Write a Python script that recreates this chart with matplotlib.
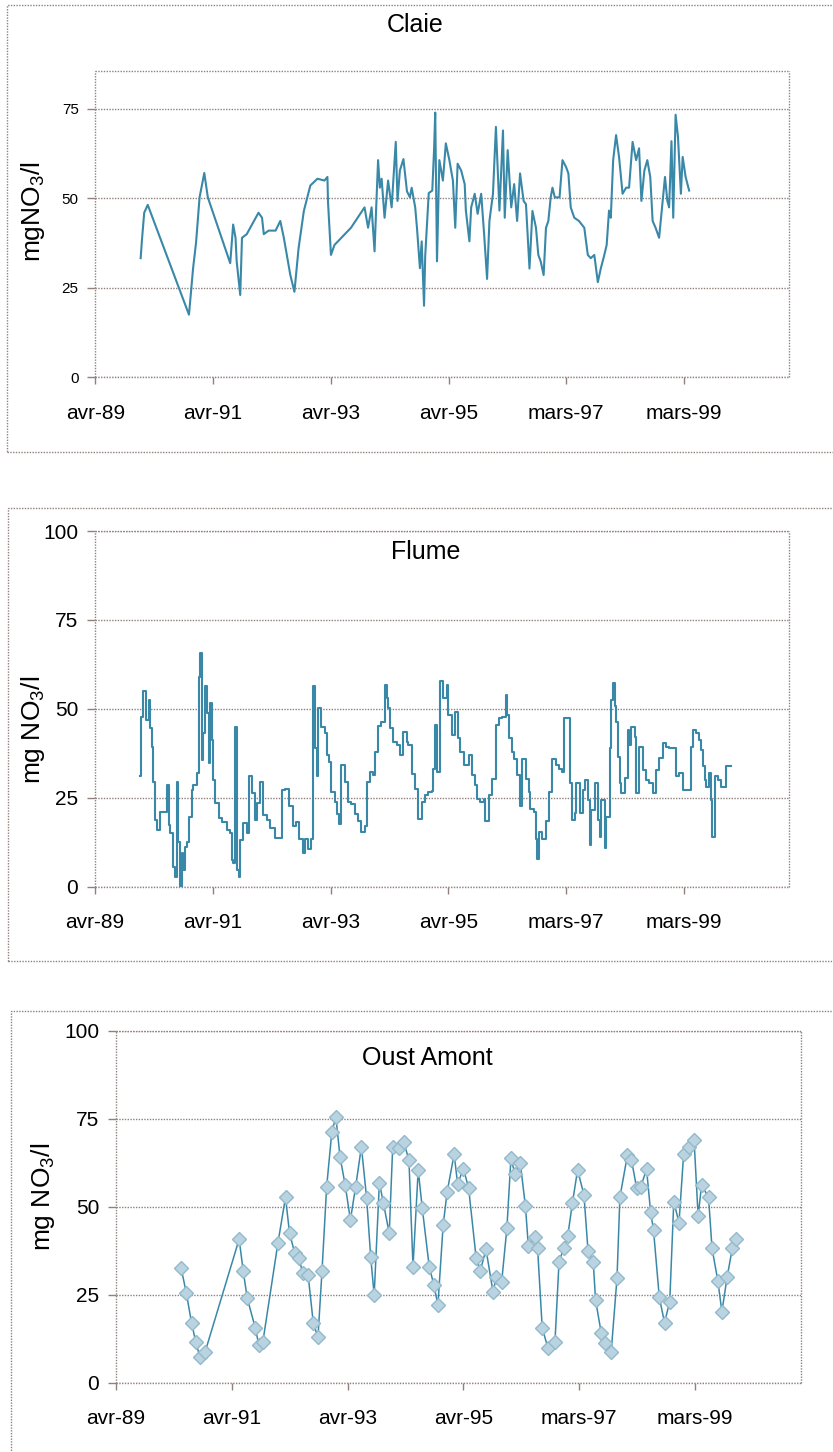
import matplotlib
matplotlib.use("Agg")
import matplotlib.pyplot as plt
from matplotlib.patches import Rectangle

plt.rcParams['font.family'] = ['Liberation Sans', 'DejaVu Sans']
plt.rcParams['mathtext.fontset'] = 'custom'
plt.rcParams['mathtext.rm'] = 'Liberation Sans'

# x axis: decimal years, Excel date ticks every 730 days from 2 Apr 1989
tick_pos = [1989.25, 1991.25, 1993.25, 1995.25, 1997.24, 1999.24]
tick_labels = ['avr-89', 'avr-91', 'avr-93', 'avr-95', 'mars-97', 'mars-99']

# Claie (dense sampling)
claie_t = [1990.02, 1990.04, 1990.08, 1990.14, 1990.84, 1990.91, 1990.96, 1991.02,
           1991.10, 1991.16, 1991.54, 1991.59, 1991.63, 1991.65, 1991.71, 1991.74,
           1991.82, 1991.91, 1992.02, 1992.08, 1992.11, 1992.19, 1992.31, 1992.39,
           1992.45, 1992.56, 1992.63, 1992.70, 1992.79, 1992.90, 1993.02, 1993.14,
           1993.19, 1993.20, 1993.25, 1993.31, 1993.59, 1993.82, 1993.88, 1993.94,
           1993.99, 1994.02, 1994.05, 1994.08, 1994.11, 1994.16, 1994.22, 1994.28,
           1994.35, 1994.38, 1994.42, 1994.48, 1994.54, 1994.59, 1994.62, 1994.68,
           1994.71, 1994.76, 1994.79, 1994.83, 1994.85, 1994.91, 1994.97, 1995.00,
           1995.02, 1995.05, 1995.09, 1995.15, 1995.20, 1995.26, 1995.32, 1995.36,
           1995.40, 1995.46, 1995.52, 1995.54, 1995.60, 1995.63, 1995.69, 1995.74,
           1995.80, 1995.85, 1995.90, 1995.94, 1996.00, 1996.05, 1996.11, 1996.17,
           1996.20, 1996.25, 1996.31, 1996.36, 1996.41, 1996.46, 1996.52, 1996.56,
           1996.62, 1996.67, 1996.73, 1996.77, 1996.81, 1996.86, 1996.90, 1996.94,
           1996.98, 1997.01, 1997.05, 1997.13, 1997.18, 1997.24, 1997.28, 1997.32,
           1997.38, 1997.46, 1997.55, 1997.61, 1997.66, 1997.72, 1997.78, 1997.83,
           1997.89, 1997.93, 1997.97, 1998.00, 1998.04, 1998.09, 1998.14, 1998.20,
           1998.26, 1998.31, 1998.37, 1998.43, 1998.48, 1998.52, 1998.57, 1998.62,
           1998.67, 1998.71, 1998.76, 1998.82, 1998.88, 1998.92, 1998.96, 1998.99,
           1999.03, 1999.06, 1999.10, 1999.14, 1999.19, 1999.22, 1999.27, 1999.33]
claie_v = [33.3, 38.0, 46.0, 48.2, 17.5, 30.5, 37.6, 50.3,
           57.1, 50.3, 31.9, 42.7, 39.0, 32.4, 23.0, 39.0,
           40.0, 42.7, 46.0, 44.6, 40.0, 41.0, 41.0, 43.7,
           39.0, 28.6, 23.9, 36.0, 46.5, 53.6, 55.5, 55.0,
           56.0, 49.0, 34.2, 37.0, 41.8, 47.5, 41.8, 47.5,
           35.2, 48.4, 60.7, 53.0, 55.5, 44.6, 55.0, 47.5,
           65.8, 49.3, 57.8, 61.0, 52.0, 50.3, 53.0, 47.5,
           41.8, 30.5, 38.0, 20.0, 34.0, 51.5, 52.2, 63.5,
           74.0, 32.4, 60.7, 55.0, 65.4, 60.7, 55.0, 41.8,
           59.7, 57.8, 54.0, 46.6, 38.0, 47.5, 51.3, 45.7,
           51.3, 40.0, 27.5, 43.7, 51.3, 70.0, 46.6, 69.0,
           44.6, 63.5, 47.5, 54.0, 43.7, 57.0, 49.3, 48.4,
           30.4, 46.5, 41.8, 34.2, 32.4, 28.6, 41.8, 43.7,
           50.3, 53.0, 50.3, 50.3, 60.7, 58.8, 57.0, 47.5,
           44.6, 43.7, 41.8, 34.2, 33.3, 34.2, 26.6, 30.4,
           34.2, 37.0, 46.6, 44.6, 60.7, 67.7, 61.6, 51.3,
           53.0, 53.0, 65.8, 60.7, 64.0, 49.3, 57.8, 60.7,
           56.0, 43.7, 41.8, 39.0, 49.3, 56.0, 49.3, 47.5,
           66.0, 44.6, 73.4, 67.3, 51.3, 61.6, 56.0, 52.2]

# Flume (held values between samples)
flume_t = [1990.01, 1990.03, 1990.07, 1990.11, 1990.16, 1990.18, 1990.21, 1990.24,
           1990.27, 1990.30, 1990.35, 1990.44, 1990.47, 1990.50, 1990.52, 1990.58,
           1990.61, 1990.64, 1990.66, 1990.69, 1990.72, 1990.75, 1990.78, 1990.81,
           1990.84, 1990.89, 1990.92, 1990.98, 1991.02, 1991.03, 1991.06, 1991.09,
           1991.12, 1991.15, 1991.18, 1991.20, 1991.23, 1991.26, 1991.29, 1991.35,
           1991.40, 1991.49, 1991.54, 1991.57, 1991.60, 1991.63, 1991.66, 1991.69,
           1991.71, 1991.77, 1991.83, 1991.86, 1991.91, 1991.97, 1992.00, 1992.05,
           1992.11, 1992.17, 1992.22, 1992.31, 1992.42, 1992.47, 1992.55, 1992.61,
           1992.66, 1992.72, 1992.78, 1992.81, 1992.86, 1992.92, 1992.95, 1992.98,
           1993.01, 1993.03, 1993.09, 1993.15, 1993.18, 1993.23, 1993.26, 1993.32,
           1993.35, 1993.40, 1993.43, 1993.49, 1993.55, 1993.60, 1993.66, 1993.72,
           1993.77, 1993.83, 1993.86, 1993.91, 1993.97, 1994.00, 1994.06, 1994.11,
           1994.17, 1994.20, 1994.23, 1994.26, 1994.31, 1994.37, 1994.43, 1994.48,
           1994.54, 1994.57, 1994.63, 1994.68, 1994.74, 1994.80, 1994.85, 1994.91,
           1994.97, 1994.99, 1995.02, 1995.05, 1995.11, 1995.16, 1995.22, 1995.25,
           1995.31, 1995.36, 1995.42, 1995.45, 1995.51, 1995.59, 1995.65, 1995.70,
           1995.73, 1995.79, 1995.85, 1995.87, 1995.93, 1995.99, 1996.05, 1996.10,
           1996.16, 1996.22, 1996.24, 1996.27, 1996.33, 1996.36, 1996.41, 1996.47,
           1996.50, 1996.56, 1996.61, 1996.64, 1996.70, 1996.73, 1996.76, 1996.78,
           1996.84, 1996.90, 1996.95, 1997.01, 1997.07, 1997.12, 1997.18, 1997.21,
           1997.31, 1997.34, 1997.39, 1997.42, 1997.48, 1997.53, 1997.56, 1997.62,
           1997.65, 1997.67, 1997.73, 1997.79, 1997.82, 1997.84, 1997.90, 1997.93,
           1997.99, 1998.01, 1998.04, 1998.07, 1998.10, 1998.13, 1998.16, 1998.18,
           1998.24, 1998.30, 1998.32, 1998.35, 1998.41, 1998.44, 1998.49, 1998.55,
           1998.61, 1998.66, 1998.72, 1998.78, 1998.83, 1998.89, 1998.95, 1999.00,
           1999.12, 1999.17, 1999.23, 1999.37, 1999.40, 1999.45, 1999.51, 1999.54,
           1999.57, 1999.60, 1999.62, 1999.68, 1999.71, 1999.73, 1999.77, 1999.82,
           1999.88, 1999.96, 2000.05]
flume_v = [31.0, 47.8, 54.9, 47.0, 52.5, 44.6, 39.4, 29.5,
           18.8, 16.0, 21.0, 21.0, 28.6, 17.4, 15.0, 5.6,
           2.8, 29.5, 12.7, 0.0, 9.4, 4.7, 11.3, 12.7,
           19.7, 27.2, 28.6, 31.9, 59.0, 65.7, 35.6, 43.2,
           56.3, 48.8, 34.7, 51.6, 41.3, 30.0, 23.5, 19.2,
           18.3, 16.0, 15.0, 7.5, 6.6, 45.0, 4.7, 2.8,
           13.1, 17.8, 15.0, 31.0, 26.3, 18.8, 23.5, 29.5,
           20.2, 18.8, 16.4, 13.6, 27.2, 27.5, 22.8, 17.2,
           18.1, 13.4, 9.6, 13.4, 10.6, 13.4, 56.3, 38.9,
           31.0, 50.2, 45.0, 43.1, 37.0, 35.1, 26.6, 23.8,
           20.5, 17.6, 34.2, 29.4, 23.8, 23.3, 20.5, 18.6,
           15.3, 17.2, 29.4, 32.3, 31.3, 37.9, 45.3, 46.4,
           56.8, 53.0, 50.2, 44.5, 40.8, 39.8, 37.0, 43.6,
           40.8, 39.8, 31.8, 27.5, 19.0, 23.8, 25.7, 26.6,
           27.0, 33.2, 45.5, 32.3, 57.7, 53.0, 56.8, 48.3,
           42.6, 49.2, 41.7, 37.9, 34.2, 37.0, 31.3, 28.5,
           24.7, 23.8, 24.7, 18.6, 25.7, 30.4, 45.5, 47.4,
           47.8, 54.0, 48.3, 41.7, 37.9, 36.0, 31.3, 22.8,
           36.0, 30.4, 26.6, 21.9, 21.0, 13.4, 7.7, 15.3,
           13.4, 18.6, 26.6, 36.0, 34.2, 33.2, 32.3, 47.4,
           29.1, 18.8, 20.6, 29.1, 20.6, 27.2, 30.0, 24.4,
           11.7, 21.6, 29.1, 18.8, 14.1, 24.4, 10.8, 19.7,
           38.9, 52.5, 57.2, 50.7, 46.4, 36.6, 29.1, 26.3,
           30.5, 44.1, 39.9, 45.0, 42.2, 26.3, 39.4, 32.8,
           30.0, 29.1, 26.3, 32.8, 36.1, 40.3, 39.4, 38.9,
           31.0, 31.9, 27.2, 39.4, 44.1, 43.2, 41.3, 38.5,
           33.8, 30.0, 28.1, 31.9, 24.4, 14.1, 31.0, 30.0,
           28.1, 33.8, 33.8]

# Oust Amont (monthly samples)
oust_t = [1990.38, 1990.47, 1990.56, 1990.63, 1990.70, 1990.79, 1991.38, 1991.45,
          1991.52, 1991.66, 1991.72, 1991.79, 1992.05, 1992.18, 1992.25, 1992.34,
          1992.41, 1992.48, 1992.57, 1992.66, 1992.74, 1992.81, 1992.89, 1992.98,
          1993.05, 1993.12, 1993.21, 1993.30, 1993.39, 1993.49, 1993.58, 1993.65,
          1993.71, 1993.80, 1993.87, 1993.97, 1994.03, 1994.13, 1994.22, 1994.31,
          1994.38, 1994.47, 1994.54, 1994.66, 1994.74, 1994.81, 1994.90, 1994.97,
          1995.09, 1995.15, 1995.25, 1995.34, 1995.47, 1995.54, 1995.64, 1995.76,
          1995.82, 1995.91, 1996.00, 1996.07, 1996.14, 1996.23, 1996.32, 1996.37,
          1996.48, 1996.53, 1996.61, 1996.71, 1996.83, 1996.90, 1996.98, 1997.05,
          1997.13, 1997.22, 1997.33, 1997.40, 1997.49, 1997.53, 1997.63, 1997.69,
          1997.80, 1997.90, 1997.95, 1998.08, 1998.15, 1998.24, 1998.31, 1998.41,
          1998.48, 1998.53, 1998.63, 1998.72, 1998.81, 1998.88, 1998.97, 1999.05,
          1999.14, 1999.23, 1999.30, 1999.36, 1999.48, 1999.54, 1999.64, 1999.71,
          1999.80, 1999.89, 1999.96]
oust_v = [32.5, 25.4, 16.9, 11.7, 7.4, 8.6, 40.8, 31.8,
          24.0, 15.5, 10.7, 11.7, 39.8, 52.7, 42.5, 36.8,
          35.4, 31.1, 30.6, 16.9, 12.9, 31.8, 55.7, 71.4,
          75.5, 64.3, 56.2, 46.3, 55.7, 67.1, 52.4, 35.8,
          24.9, 56.9, 51.0, 42.5, 67.1, 66.6, 68.5, 63.3,
          33.0, 60.5, 49.6, 33.0, 27.8, 22.1, 44.8, 54.3,
          65.0, 56.5, 60.9, 55.3, 35.4, 31.8, 37.9, 25.9,
          30.0, 28.7, 43.9, 63.8, 59.3, 62.6, 50.2, 38.9,
          41.3, 38.2, 15.5, 9.8, 11.7, 34.4, 38.2, 41.7,
          51.0, 60.5, 53.4, 37.5, 34.4, 23.5, 14.0, 11.2,
          8.8, 29.7, 52.7, 64.7, 63.3, 55.3, 55.7, 60.7,
          48.6, 43.4, 24.3, 17.1, 23.0, 51.5, 45.5, 65.0,
          67.1, 69.0, 47.4, 56.2, 52.7, 38.2, 29.0, 20.2,
          30.0, 38.2, 40.8]

W, H = 833, 1452
line_col = '#3a88a8'
grid_col = '#8f817c'
dots = (0, (1, 1))

fig = plt.figure(figsize=(W / 100, H / 100), dpi=100)


def fx(px):
    return px / W


def fy(py):
    return 1 - py / H


def make_axes(left, top, right, bottom):
    return fig.add_axes([fx(left), fy(bottom), fx(right) - fx(left), fy(top) - fy(bottom)])


def style_axes(ax, xmax, ymax, yticks, ysize):
    ax.set_xlim(tick_pos[0], xmax)
    ax.set_ylim(0, ymax)
    ax.set_yticks(yticks)
    ax.set_xticks(tick_pos)
    ax.set_xticklabels(tick_labels)
    ax.yaxis.grid(True, linestyle=dots, color=grid_col, linewidth=1)
    ax.set_axisbelow(True)
    for s in ax.spines.values():
        s.set_linestyle(dots)
        s.set_capstyle('butt')
        s.set_color(grid_col)
        s.set_linewidth(1)
    ax.tick_params(axis='y', length=6, width=1, color=grid_col, labelsize=ysize, pad=6)
    ax.tick_params(axis='x', length=5, width=1, color=grid_col, labelsize=15, pad=14)


def frame(left, top, bottom):
    r = Rectangle((fx(left), fy(bottom)), 1.2, fy(top) - fy(bottom),
                  transform=fig.transFigure, fill=False,
                  linestyle=dots, edgecolor=grid_col, linewidth=1)
    r.set_capstyle('butt')
    fig.add_artist(r)


# panel 1 : Claie
frame(7, 5, 452)
ax1 = make_axes(95.3, 70.7, 789.3, 377.3)
ax1.plot(claie_t, claie_v, color=line_col, linewidth=1.5)
style_axes(ax1, 2001.03, 85.7, [0, 25, 50, 75], 11)
fig.text(fx(415), fy(25), 'Claie', ha='center', va='center', fontsize=18)
fig.text(fx(33), fy(212), 'mgNO$_3$/l', rotation=90, ha='center', va='center', fontsize=19)

# panel 2 : Flume
frame(8, 508, 961)
ax2 = make_axes(95, 531, 789, 886.7)
ax2.plot(flume_t, flume_v, color=line_col, linewidth=1.5, drawstyle='steps-post')
style_axes(ax2, 2001.03, 100, [0, 25, 50, 75, 100], 15)
fig.text(fx(426), fy(552), 'Flume', ha='center', va='center', fontsize=18)
fig.text(fx(33), fy(730), 'mg NO$_3$/l', rotation=90, ha='center', va='center', fontsize=19)

# panel 3 : Oust Amont
frame(11, 1011, 1600)
ax3 = make_axes(115.7, 1031, 800.7, 1382.7)
ax3.plot(oust_t, oust_v, color=line_col, linewidth=1.1, marker='D', markersize=7,
         markerfacecolor='#b9d4e0', markeredgecolor='#93b9cb', markeredgewidth=1)
style_axes(ax3, 2001.07, 100, [0, 25, 50, 75, 100], 15)
fig.text(fx(427), fy(1058), 'Oust Amont', ha='center', va='center', fontsize=18)
fig.text(fx(43), fy(1197), 'mg NO$_3$/l', rotation=90, ha='center', va='center', fontsize=19)

fig.savefig('out.png', dpi=100)
